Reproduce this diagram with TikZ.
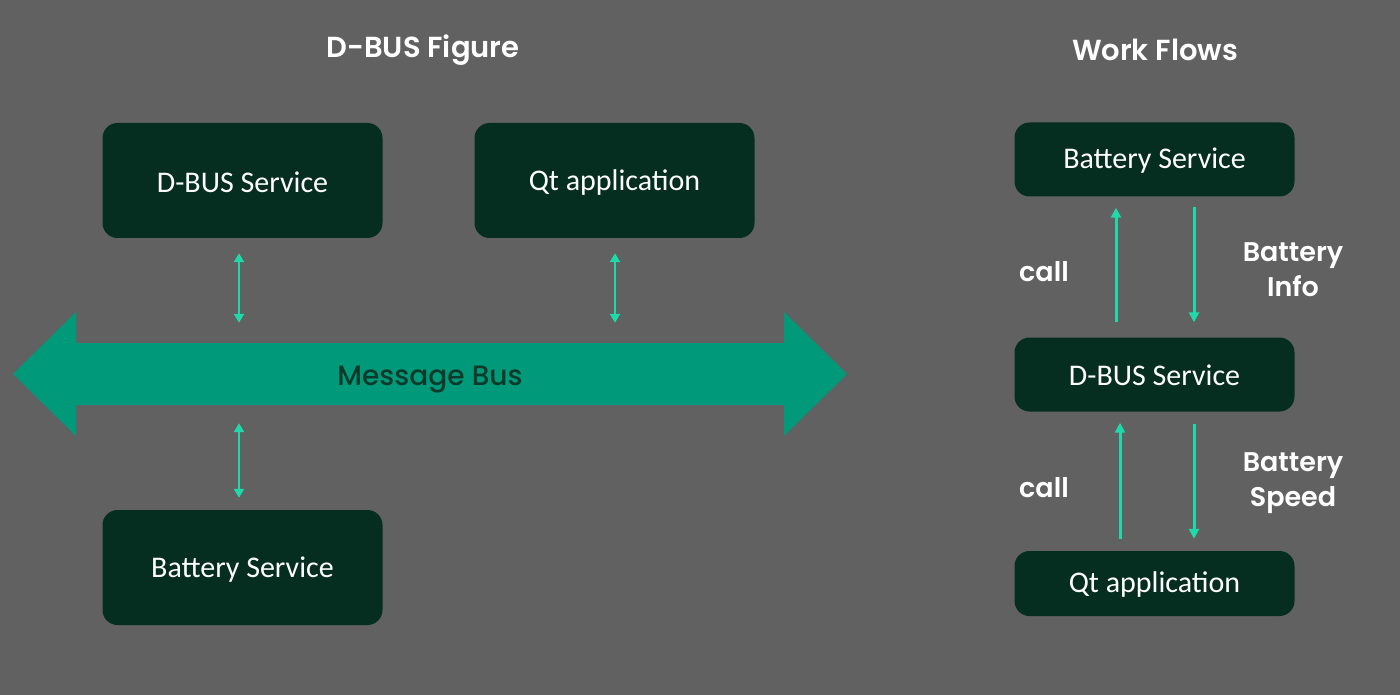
\documentclass[tikz,border=0pt]{standalone}
\usepackage{fontspec}
\usetikzlibrary{arrows.meta}
\newfontfamily\boxfont{Carlito}
\newfontfamily\futfont{Poppins Medium}
\newfontfamily\futbold{Poppins SemiBold}
\definecolor{bg}{HTML}{616161}
\definecolor{boxgreen}{HTML}{062E20}
\definecolor{busgreen}{HTML}{009A7B}
\definecolor{bustext}{HTML}{0B3A2B}
\definecolor{arrowgreen}{HTML}{1FD9A8}
\tikzset{
  gbox/.style={fill=boxgreen, rounded corners=15pt, inner sep=0pt, minimum width=280pt},
  bigbox/.style={gbox, minimum height=115pt},
  flowbox/.style={gbox, minimum height=74pt},
  sarrow/.style={draw=arrowgreen, line width=3pt, -{Triangle[width=10pt,length=10pt]}},
  darrow/.style={draw=arrowgreen, line width=2.5pt, {Triangle[width=10pt,length=9pt]}-{Triangle[width=10pt,length=9pt]}},
  titletext/.style={text=white, font=\futbold\fontsize{29}{34}\selectfont},
  lbltext/.style={text=white, font=\futbold\fontsize{27}{35}\selectfont, align=center},
  boxlabel/.style={text=white, font=\boxfont\fontsize{30}{36}\selectfont, inner sep=0pt},
}
\begin{document}
\begin{tikzpicture}[x=1pt,y=-1pt]
\fill[bg] (0,0) rectangle (1400,695);
\useasboundingbox (0,0) rectangle (1400,695);

% titles
\node[titletext] (t1) at (423,50) {D-BUS Figure};
\node[titletext] (t2) at (1155,50) {Work Flows};

% left figure
\node[bigbox] (dbus) at (242.5,180.5) {};
\node[boxlabel] at ([yshift=-2pt]dbus.center) {D-BUS Service};
\node[bigbox] (qt) at (614.5,180.5) {};
\node[boxlabel] at ([yshift=-2pt]qt.center) {Qt application};
\node[bigbox] (batt) at (242.5,567.5) {};
\node[boxlabel] at ([yshift=-2pt]batt.center) {Battery Service};

% message bus arrow
\fill[busgreen] (13,374) -- (76,312) -- (76,343) -- (784,343) -- (784,312)
  -- (847,374) -- (784,436) -- (784,405) -- (76,405) -- (76,436) -- cycle;
\node[inner sep=0pt, minimum width=708pt, minimum height=62pt] (bus) at (430,374) {};
\node[text=bustext, font=\futfont\fontsize{28}{34}\selectfont] (bustxt) at (430,380) {Message Bus};

\draw[darrow, shorten <=15pt, shorten >=20pt]
  ([xshift=-3.5pt]dbus.south) -- ([xshift=-3.5pt]dbus.south |- bus.north);
\draw[darrow, shorten <=15pt, shorten >=20pt]
  ([xshift=0.5pt]qt.south) -- ([xshift=0.5pt]qt.south |- bus.north);
\draw[darrow, shorten <=18pt, shorten >=12pt]
  ([xshift=-3.5pt]batt.north |- bus.south) -- ([xshift=-3.5pt]batt.north);

% work flows
\node[flowbox] (bs2) at (1154.5,159.5) {};
\node[boxlabel] at ([yshift=-1pt]bs2.center) {Battery Service};
\node[flowbox] (db2) at (1154.5,374.5) {};
\node[boxlabel] at ([yshift=-1pt]db2.center) {D-BUS Service};
\node[flowbox, minimum height=65pt] (qt2) at (1154.5,583.5) {};
\node[boxlabel] at ([yshift=-1pt]qt2.center) {Qt application};

\draw[sarrow, shorten <=15pt, shorten >=11pt]
  ([xshift=-38.5pt]db2.north) -- ([xshift=-38.5pt]bs2.south);
\draw[sarrow, shorten <=10pt, shorten >=15pt]
  ([xshift=39.5pt]bs2.south) -- ([xshift=39.5pt]db2.north);
\draw[sarrow, shorten <=12pt, shorten >=11pt]
  ([xshift=-34.5pt]qt2.north) -- ([xshift=-34.5pt]db2.south);
\draw[sarrow, shorten <=12pt, shorten >=12pt]
  ([xshift=39.5pt]db2.south) -- ([xshift=39.5pt]qt2.north);

\node[lbltext] (c1) at (1044,272) {call};
\node[lbltext] (i1) at (1293,270) {Battery\\Info};
\node[lbltext] (c2) at (1044,488) {call};
\node[lbltext] (i2) at (1293,483) {Battery\\Speed};
\end{tikzpicture}
\end{document}
